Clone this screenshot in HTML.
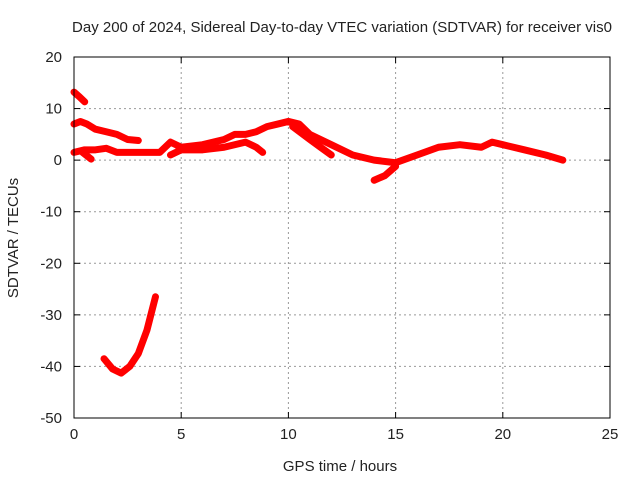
<!DOCTYPE html>
<html><head><meta charset="utf-8"><style>
body{margin:0;background:#fff}
svg text{font-family:"Liberation Sans",sans-serif;font-size:15px;fill:#222}
</style></head><body>
<svg id="chart" width="640" height="480">
<rect width="640" height="480" fill="#fff"/>
<text x="342" y="32" text-anchor="middle">Day 200 of 2024, Sidereal Day-to-day VTEC variation (SDTVAR) for receiver vis0</text>
<g id="grid"></g><g id="series"></g><g id="axes"></g>
<text x="340" y="471" text-anchor="middle">GPS time / hours</text>
<text transform="translate(18,238) rotate(-90)" text-anchor="middle">SDTVAR / TECUs</text>
</svg>
<script>
const xTicks=[0,5,10,15,20,25];
const yTicks=[20,10,0,-10,-20,-30,-40,-50];
const seriesA=[[0,13.2],[0.25,12.3],[0.5,11.3]];
const seriesB=[[0,7],[0.3,7.5],[0.6,7],[1,6],[1.5,5.5],[2,5],[2.5,4],[3,3.8]];
const seriesC=[[0,1.5],[0.5,2],[1,2],[1.5,2.3],[2,1.5],[3,1.5],[4,1.5],[4.5,3.5],[5,2.5],[6,3],[7,4],[7.5,5],[8,5],[8.5,5.5],[9,6.5],[9.5,7],[10,7.5],[10.5,7],[11,5],[12,3],[13,1],[14,0],[15,-0.5],[16,1],[17,2.5],[18,3],[19,2.5],[19.5,3.5],[20,3],[21,2],[22,1],[22.8,0]];
const seriesD=[[0.4,1.5],[0.8,0.2]];
const seriesE=[[4.5,1],[5,2],[6,2],[7,2.5],[8,3.5],[8.5,2.5],[8.8,1.5]];
const seriesF=[[10.2,6.5],[11,4],[11.5,2.5],[12,1]];
const seriesG=[[14,-3.9],[14.5,-3],[15,-1.2]];
const seriesH=[[1.4,-38.5],[1.8,-40.5],[2.2,-41.3],[2.6,-40],[3,-37.5],[3.4,-33],[3.8,-26.5]];
const X0=74,X1=610,Y0=57,Y1=418;
const xs=h=>X0+h/25*(X1-X0);
const ys=v=>Y0+(20-v)/70*(Y1-Y0);
const NS='http://www.w3.org/2000/svg';
const grid=document.getElementById('grid'),axes=document.getElementById('axes'),ser=document.getElementById('series');
function mk(tag,attrs,parent){const e=document.createElementNS(NS,tag);for(const k in attrs)e.setAttribute(k,attrs[k]);parent.appendChild(e);return e;}
xTicks.forEach(t=>{const x=xs(t);
 if(t>0&&t<25){const g=mk('line',{x1:x,x2:x,y1:Y0,y2:Y1,stroke:'#999','stroke-dasharray':'2,3'},grid);
 
 }
 mk('line',{x1:x,x2:x,y1:Y1,y2:Y1-6,stroke:'#000'},axes);
 mk('line',{x1:x,x2:x,y1:Y0,y2:Y0+6,stroke:'#000'},axes);
 const l=mk('text',{x:x,y:Y1+21,'text-anchor':'middle'},axes);l.textContent=t;
 
 
});
yTicks.forEach(t=>{const y=ys(t);
 if(t<20&&t>-50){const g=mk('line',{x1:X0,x2:X1,y1:y,y2:y,stroke:'#999','stroke-dasharray':'2,3'},grid);
 
 }
 mk('line',{x1:X0,x2:X0+6,y1:y,y2:y,stroke:'#000'},axes);
 mk('line',{x1:X1,x2:X1-6,y1:y,y2:y,stroke:'#000'},axes);
 const l=mk('text',{x:X0-12,y:y+5,'text-anchor':'end'},axes);l.textContent=t;
 
 
});
const fr=mk('rect',{x:X0,y:Y0,width:X1-X0,height:Y1-Y0,fill:'none',stroke:'#000'},axes);


[seriesA,seriesB,seriesC,seriesD,seriesE,seriesF,seriesG,seriesH].forEach(s=>{
 const p=mk('polyline',{points:s.map(d=>xs(d[0])+','+ys(d[1])).join(' '),fill:'none',stroke:'#f00','stroke-width':7,'stroke-linejoin':'round','stroke-linecap':'round'},ser);
 
 
});
</script>
</body></html>
